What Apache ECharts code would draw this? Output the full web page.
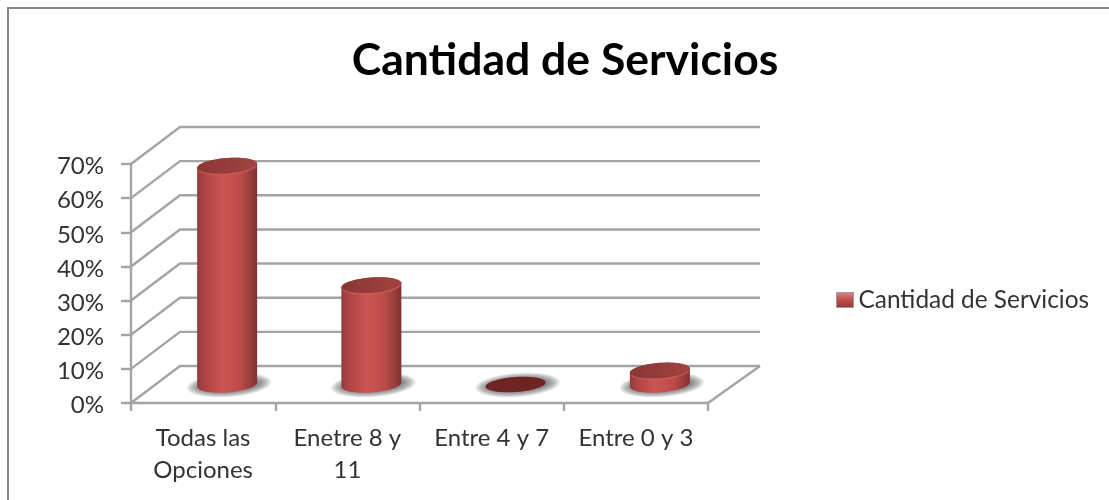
<!DOCTYPE html>
<html><head><meta charset="utf-8">
<style>html,body{margin:0;padding:0;background:#fff}#c{width:1109px;height:500px}</style>
<script src="https://cdn.jsdelivr.net/npm/echarts@6/dist/echarts.min.js"></script>
</head><body><div id="c"></div>
<script>
const categories = ['Todas las\nOpciones', 'Enetre 8 y\n11', 'Entre 4 y 7', 'Entre 0 y 3'];
const values = [0.64, 0.29, 0, 0.04];
const ticks = [0, 0.1, 0.2, 0.3, 0.4, 0.5, 0.6, 0.7];
const seriesName = 'Cantidad de Servicios';
const titleText = 'Cantidad de Servicios';

const FONT = 'Lato, "Open Sans", sans-serif';
const LINE = '#a4a4a4';
const DX = 50, DY = 37, RX = 30, RY = 8, TILT = 0.07;

function ellipse(cx, cy, rx, ry, from, to, n) {
  const pts = [];
  for (let i = 0; i <= n; i++) {
    const t = from + (to - from) * i / n;
    pts.push([cx + rx * Math.cos(t), cy + ry * Math.sin(t) - TILT * rx * Math.cos(t)]);
  }
  return pts;
}
function wallItem(params, api) {
  const y = api.coord([0, api.value(0)])[1];
  const x0 = params.coordSys.x, x1 = x0 + params.coordSys.width;
  const st = {stroke: LINE, lineWidth: 2.4, fill: null};
  const kids = [{type: 'polyline', shape: {points: [[x0, y], [x0 + DX - 1, y - DY], [x1 + DX + 2, y - DY]]}, style: st}];
  if (api.value(0) === 0) kids.push({type: 'line', shape: {x1: x1, y1: y, x2: x1 + DX + 2, y2: y - DY}, style: st});
  return {type: 'group', children: kids};
}
function barItem(params, api) {
  const i = api.value(0), v = api.value(1);
  const base = api.coord([i, 0]), top = api.coord([i, v]);
  const cx = base[0] + DX / 2 - 1, by = base[1] - DY / 2, ty = top[1] - DY / 2;
  const kids = [];
  for (let k = 0; k < 8; k++) {
    kids.push({
      type: 'polygon', shape: {points: ellipse(cx + 2, by + 0.5, RX + 12 - k * 2, 12 - k * 0.9, 0, Math.PI * 2, 48)},
      style: {fill: 'rgba(70,70,70,0.13)'}
    });
  }
  if (v > 0) {
    const front = ellipse(cx, by, RX, RY, 0, Math.PI, 32);
    const backEdge = ellipse(cx, ty, RX, RY, Math.PI, Math.PI * 2, 32);
    kids.push({
      type: 'polygon', shape: {points: front.concat(backEdge)},
      style: {fill: {type: 'linear', x: 0, y: 0, x2: 1, y2: 0, colorStops: [
        {offset: 0, color: '#953a38'}, {offset: 0.12, color: '#ac4442'}, {offset: 0.42, color: '#cc5553'},
        {offset: 0.72, color: '#bc4c49'}, {offset: 0.92, color: '#913a37'}, {offset: 1, color: '#823230'}]}}
    });
    kids.push({
      type: 'polygon', shape: {points: ellipse(cx, ty, RX, RY, 0, Math.PI * 2, 48)},
      style: {fill: {type: 'linear', x: 0, y: 0, x2: 1, y2: 0, colorStops: [
        {offset: 0, color: '#8c3735'}, {offset: 0.5, color: '#953c3a'}, {offset: 1, color: '#a44341'}]}}
    });
    kids.push({
      type: 'polyline', shape: {points: ellipse(cx, ty, RX, RY, 0.3, Math.PI - 0.3, 24)},
      style: {fill: null, stroke: 'rgba(222,105,101,0.55)', lineWidth: 1.5}
    });
  } else {
    kids.push({
      type: 'polygon', shape: {points: ellipse(cx, by, RX, RY - 0.5, 0, Math.PI * 2, 48)},
      style: {fill: '#6e2422'}
    });
  }
  return {type: 'group', children: kids};
}

const chart = echarts.init(document.getElementById('c'), null, {renderer: 'canvas'});
chart.setOption({
  animation: false,
  backgroundColor: '#fff',
  title: {text: titleText, left: 560, top: 33, textAlign: 'center',
    textStyle: {fontFamily: FONT, fontSize: 44.5, fontWeight: 'bold', color: '#000'}},
  legend: {
    data: [{name: seriesName, icon: 'rect', itemStyle: {
      color: {type: 'linear', x: 0, y: 0, x2: 0, y2: 1, colorStops: [
        {offset: 0, color: '#e08a86'}, {offset: 0.45, color: '#c0504d'}, {offset: 1, color: '#8f3735'}]},
      borderColor: '#9c9c9c', borderWidth: 1}}],
    left: 836, top: 288, padding: 0, itemWidth: 17, itemHeight: 15, itemGap: 0, selectedMode: false,
    textStyle: {fontFamily: FONT, fontSize: 24.4, color: '#333', padding: [0, 0, 0, 0]}
  },
  grid: {left: 131, top: 164, width: 577, height: 239, containLabel: false},
  xAxis: {
    type: 'category', data: categories,
    axisLine: {lineStyle: {color: LINE, width: 2.4}},
    axisTick: {show: true, length: 8, lineStyle: {color: LINE, width: 2.4}},
    splitLine: {show: false},
    axisLabel: {interval: 0, margin: 19, fontFamily: FONT, fontSize: 24, color: '#333', lineHeight: 32}
  },
  yAxis: {
    type: 'value', min: 0, max: 0.7, interval: 0.1,
    axisLine: {show: true, lineStyle: {color: LINE, width: 2.4}},
    axisTick: {show: true, length: 10, lineStyle: {color: LINE, width: 2.4}},
    splitLine: {show: false},
    axisLabel: {margin: 27, fontFamily: FONT, fontSize: 24, color: '#333', verticalAlign: 'top', lineHeight: 5,
      formatter: v => Math.round(v * 100) + '%'}
  },
  graphic: [{type: 'polyline', silent: true, z: 10,
    shape: {points: [[8, 500], [8, 8], [1109, 8]]},
    style: {stroke: '#868686', lineWidth: 2, fill: null}}],
  series: [
    {type: 'custom', name: 'wall', z: 1, silent: true, renderItem: wallItem,
      data: ticks.map(t => [t]), encode: {y: 0}},
    {type: 'custom', name: seriesName, z: 3, silent: true, renderItem: barItem,
      itemStyle: {color: '#c0504d'},
      data: values.map((v, i) => [i, v]), encode: {x: 0, y: 1}}
  ]
});
</script></body></html>
